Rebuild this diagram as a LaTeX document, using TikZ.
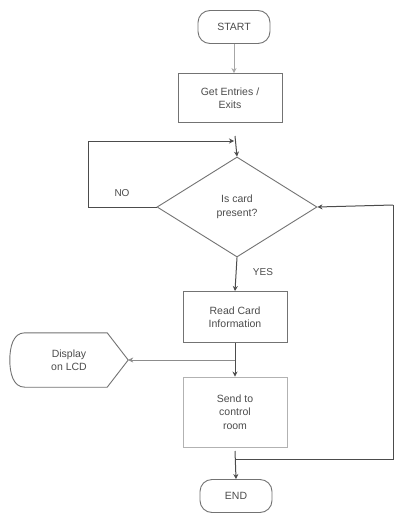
\documentclass[tikz,border=0pt]{standalone}
\usepackage{fontspec}
\setmainfont{Liberation Sans}
\usetikzlibrary{shapes.geometric,arrows.meta}
\begin{document}
\begin{tikzpicture}[x=1pt,y=-1pt,
  every node/.style={font=\fontsize{10.5}{13.5}\selectfont, text=black!70, align=center},
  term/.style={draw=black!55, line width=0.9pt, rounded corners=12pt, minimum width=72pt, minimum height=33pt, inner sep=0pt},
  procbox/.style={draw=black!55, line width=0.9pt, minimum width=104pt, inner sep=0pt},
  decide/.style={draw=black!55, line width=0.9pt, diamond, minimum width=160pt, minimum height=100pt, inner sep=0pt},
  conn/.style={draw=black!70, line width=1pt},
  arr/.style={conn, -{Stealth[length=5pt,width=5pt]}},
  lbl/.style={font=\fontsize{10}{12}\selectfont}
]
\useasboundingbox[fill=white] (0,0) rectangle (395,516);

\node[term] (start) at (234,27) {START};
\node[procbox, minimum height=49pt] (get) at (230,98) {Get Entries /\\Exits};
\node[decide] (dia) at (237,207) {Is card\\present?};
\node[procbox, minimum height=51pt] (read) at (235,317) {Read Card\\Information};
\node[procbox, draw=black!30, minimum height=70pt] (send) at (235,412) {Send to\\control\\room};
\node[term] (end) at (236,496) {END};
\node[minimum width=118pt, minimum height=54pt, inner sep=0pt] (disp) at (69,360) {Display\\on LCD};
\draw[black!55, line width=0.9pt] ([xshift=15pt]disp.north west) -- ([xshift=-21pt]disp.north east) -- (disp.east)
  -- ([xshift=-21pt]disp.south east) -- ([xshift=15pt]disp.south west)
  to[out=180,in=-90] (disp.west) to[out=90,in=180] ([xshift=15pt]disp.north west) -- cycle;

\node[lbl] (no) at (122,193) {NO};
\node[lbl] (yes) at (263,272) {YES};

\coordinate (mtop) at (235,141);
\coordinate (mbot) at (235,459);
\coordinate (dispj) at (235,360);

% START -> Get
\draw[arr, draw=black!35] (start.south) -- ([xshift=4pt]get.north);
% NO loop
\draw[arr] (dia.west) -- (88,207) |- ([xshift=-1pt]mtop);
\draw[arr] ([yshift=5pt]mtop) -- (dia.north);
% YES
\draw[arr] (dia.south) -- (read.north);
% Read -> Send
\draw[arr] (read.south) -- (send.north);
% to display
\draw[arr, draw=black!45, line width=0.6pt] (dispj) -- (disp.east);
% return loop
\draw[conn] (mbot) -- (393,459) -- (393,205);
\draw[arr] (393,205) -- (dia.east);
% to END
\draw[arr] ([yshift=8pt]mbot) -- (end.north);
\end{tikzpicture}
\end{document}
